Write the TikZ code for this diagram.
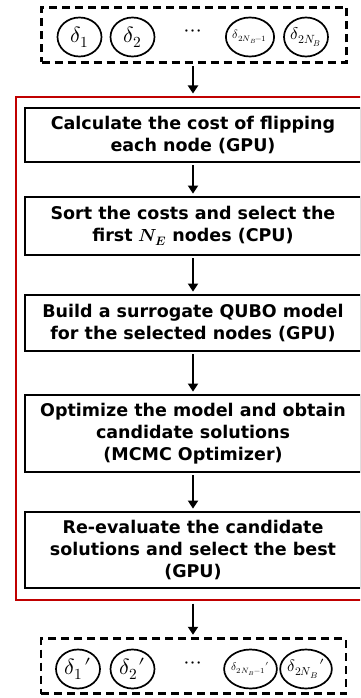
\documentclass[tikz,border=0pt]{standalone}
\usepackage{fontspec}
\usepackage{unicode-math}
\setmainfont{DejaVu Sans}
\setmathfont{Latin Modern Math}
\usetikzlibrary{arrows.meta,shapes.geometric}
\definecolor{loopred}{RGB}{192,0,0}
\newcommand{\pr}{\mkern1mu\prime}
\begin{document}
\begin{tikzpicture}[x=1pt,y=-1pt,
  stepbox/.style={draw=black,line width=1.8pt,minimum width=336pt,inner sep=0pt,
    align=center,font=\fontsize{17.5}{22}\selectfont\bfseries},
  setbox/.style={draw=black,line width=2.4pt,dash pattern=on 8pt off 5pt,
    minimum width=305pt,minimum height=55pt,inner sep=0pt},
  var/.style={ellipse,draw=black,line width=1.7pt,minimum width=44pt,
    minimum height=39pt,inner sep=0pt},
  big/.style={font=\fontsize{22}{22}\selectfont},
  flow/.style={line width=1.8pt,-{Triangle[width=10pt,length=8pt]},
    shorten <=2.5pt,shorten >=2.5pt}]
\useasboundingbox (0,0) rectangle (360,698);
\clip (0,0) rectangle (360,698);

% input set of variables
\node[setbox] (in) at (194,35) {};
\node[var,big] (a1) at (79.5,37) {$\delta_1$};
\node[var,big] (a2) at (132.5,37) {$\delta_2$};
\node[big] (adots) at (193,33) {$\cdots$};
\node[var,font=\fontsize{12}{12}\selectfont] (a3) at (250,37) {$\delta_{2N_B-1}$};
\node[var,font=\fontsize{17}{17}\selectfont] (a4) at (306,37) {$\delta_{2N_B}$};

% iterative loop
\node[draw=loopred,line width=2pt,minimum width=354pt,minimum height=503pt,inner sep=0pt]
  (loop) at (193,348.5) {};
\node[stepbox,minimum height=54pt] (s1) at (193,135)
  {Calculate the cost of flipping\\each node (GPU)};
\node[stepbox,minimum height=58pt] (s2) at (193,226)
  {Sort the costs and select the\\first $\symbfit{N}_{\symbfit{E}}$ nodes (CPU)};
\node[stepbox,minimum height=56pt] (s3) at (193,323)
  {Build a surrogate QUBO model\\for the selected nodes (GPU)};
\node[stepbox,minimum height=77pt] (s4) at (193,433.5)
  {Optimize the model and obtain\\candidate solutions\\(MCMC Optimizer)};
\node[stepbox,minimum height=76pt] (s5) at (193,550)
  {Re-evaluate the candidate\\solutions and select the best\\(GPU)};

% output set of variables
\node[setbox] (out) at (193.5,666) {};
\node[var,big] (b1) at (78,669) {$\delta_1\pr$};
\node[var,big] (b2) at (132.5,669) {$\delta_2\pr$};
\node[big] (bdots) at (193,665) {$\cdots$};
\node[var,font=\fontsize{11}{11}\selectfont] (b3) at (250.5,669) {$\delta_{2N_B-1}\pr$};
\node[var,font=\fontsize{16.5}{16.5}\selectfont] (b4) at (306,669) {$\delta_{2N_B}\pr$};

\draw[flow] (in.south -| s1.north) -- (loop.north -| s1.north);
\draw[flow] (s1) -- (s2);
\draw[flow] (s2) -- (s3);
\draw[flow] (s3) -- (s4);
\draw[flow] (s4) -- (s5);
\draw[flow] (loop.south -| s5.south) -- (out.north -| s5.south);
\end{tikzpicture}
\end{document}
